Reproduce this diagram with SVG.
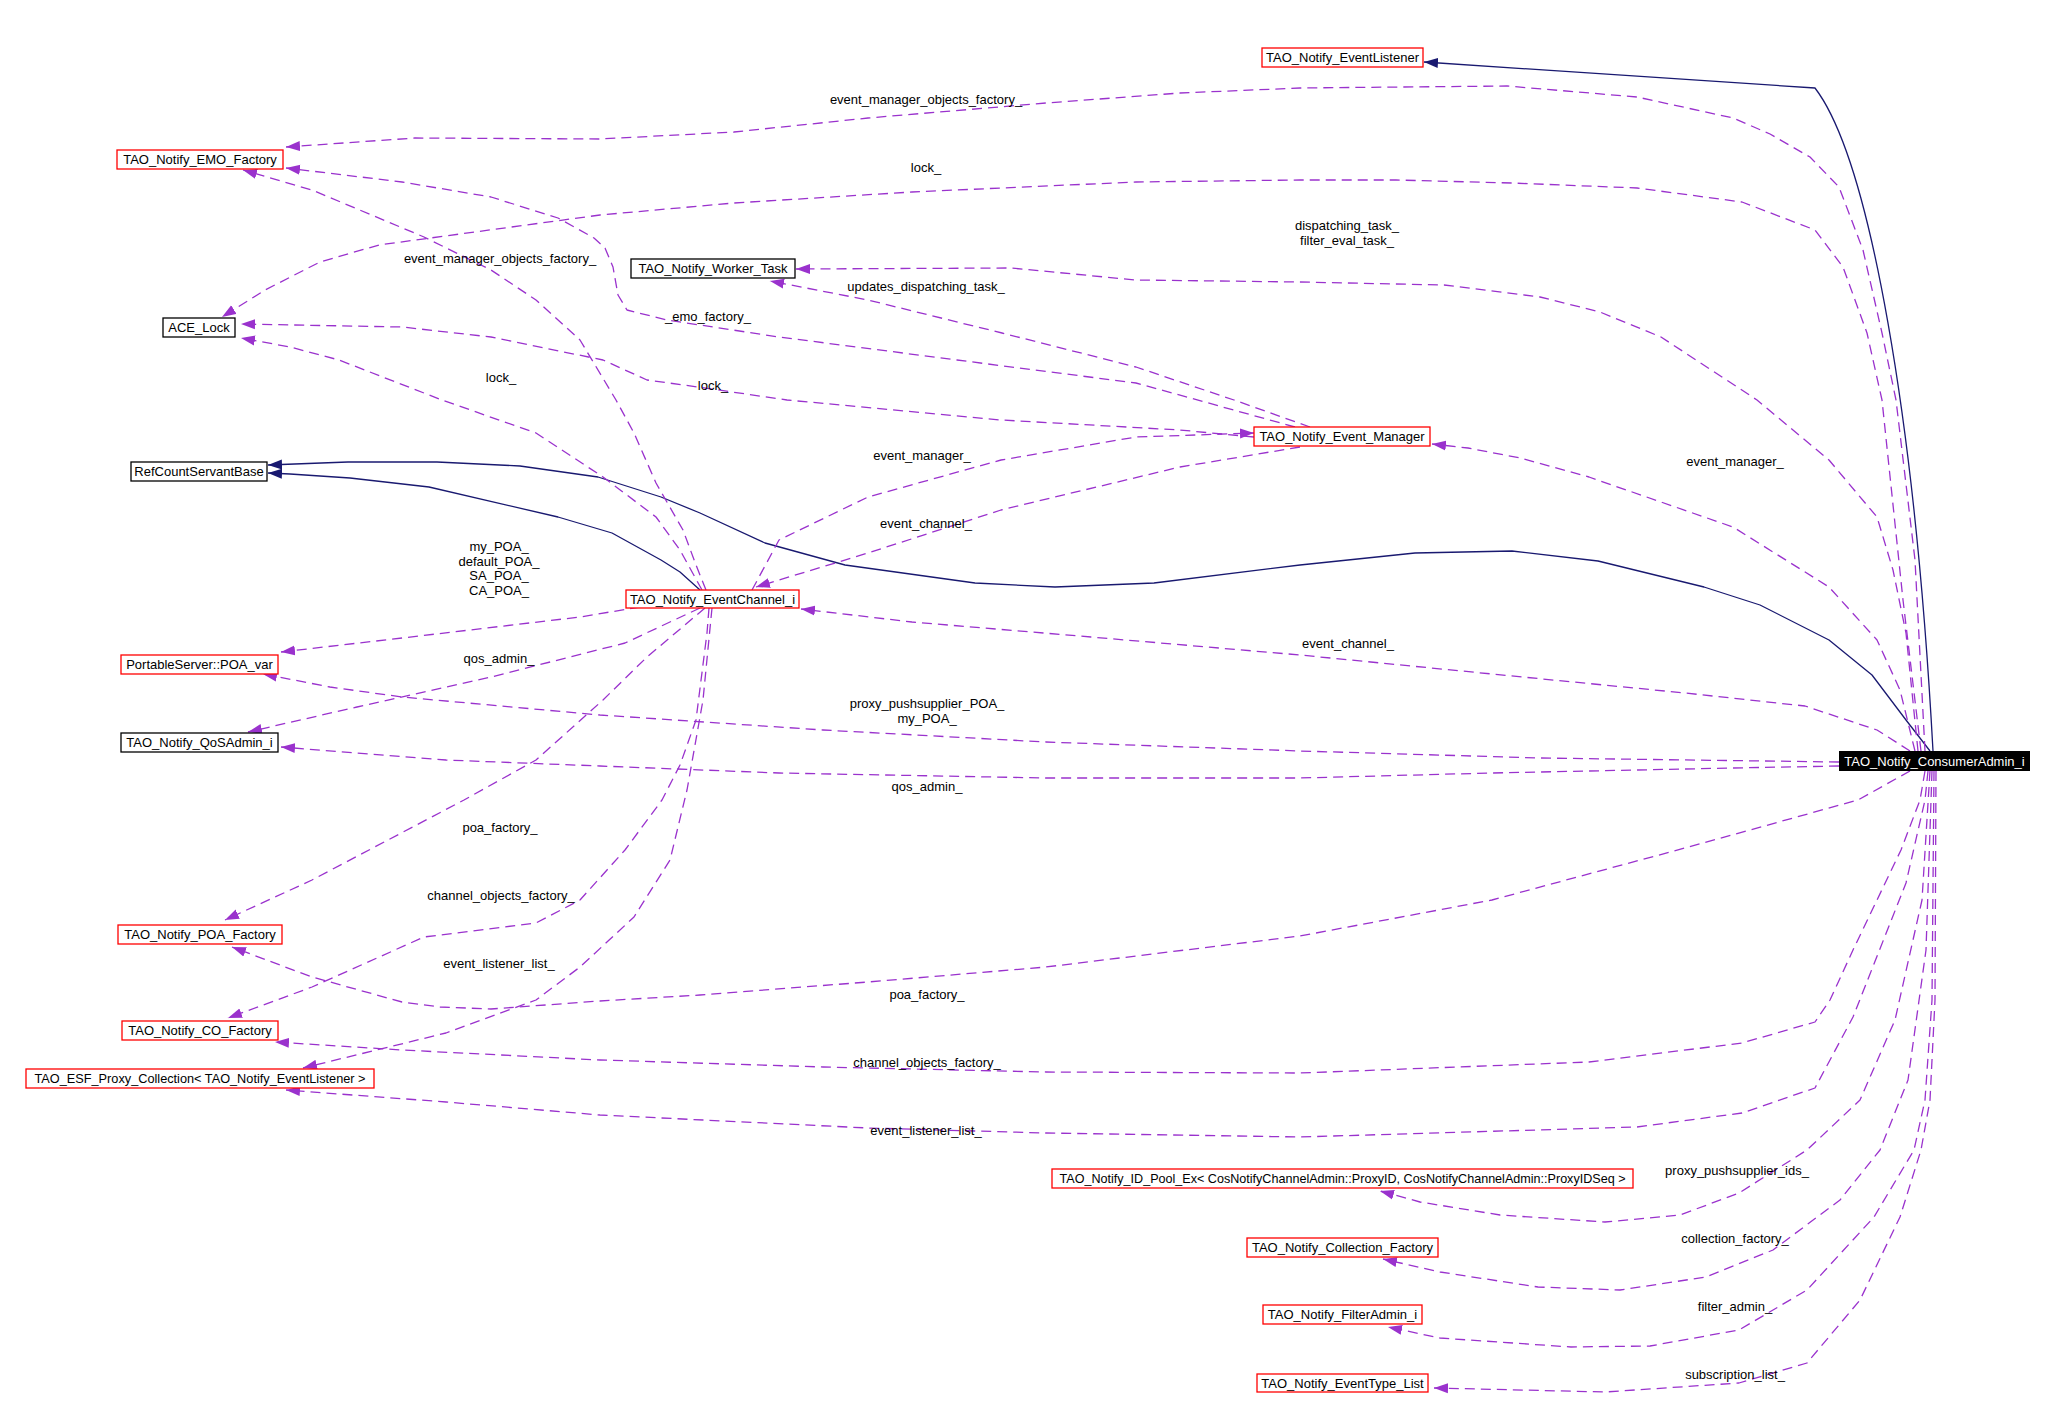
<svg xmlns="http://www.w3.org/2000/svg" width="2054" height="1409" viewBox="0 0 2054 1409">
<style>
text{font-family:"Liberation Sans",Arial,sans-serif;font-size:13px;fill:#000}
.n rect{fill:#fff;stroke:#000;stroke-width:1.3}
.r rect{stroke:#f00}
.m{text-anchor:middle}
.u{fill:none;stroke:#9a32cd;stroke-width:1.3;stroke-dasharray:10,6;stroke-linejoin:round;marker-end:url(#ap)}
.h{fill:none;stroke:#191970;stroke-width:1.3;stroke-linejoin:round;marker-end:url(#an)}
.lb{text-anchor:middle}
</style>
<defs>
<marker id="ap" markerWidth="15" markerHeight="11" refX="14" refY="5.5" orient="auto" markerUnits="userSpaceOnUse"><path d="M0,0.5 L14,5.5 L0,10.5 z" fill="#9a32cd"/></marker>
<marker id="an" markerWidth="15" markerHeight="11" refX="14" refY="5.5" orient="auto" markerUnits="userSpaceOnUse"><path d="M0,0.5 L14,5.5 L0,10.5 z" fill="#191970"/></marker>
</defs>
<rect width="2054" height="1409" fill="#fff"/>
<g id="edges">
<path class="h" d="M1933,751 C1915,420 1870,160 1815,88 L1424,62"/>
<path class="h" d="M1930,751 L1906,720 L1872,675 L1829,640 L1760,605 L1704,587 L1598,561 L1512,551 L1415,553 L1300,565 L1154,583 L1055,587 L975,583 L845,565 L765,543 L700,513 L661,497 L598,477 L520,466 L437,462 L348,462 L268,465"/>
<path class="h" d="M700,590 L680,572 L661,560 L612,533 L558,517 L429,487 L350,478 L290,474 L268,473"/>
<path class="u" d="M1925,751 L1915,560 L1896,400 L1882,333 L1863,250 L1839,187 L1810,157 L1770,134 L1733,118 L1637,97 L1507,86 L1300,88 L1180,93 L1046,103 L868,118 L734,132 L600,139 L415,138 L286,147"/>
<path class="u" d="M1921,751 L1903,600 L1882,400 L1867,333 L1843,267 L1815,230 L1742,202 L1637,188 L1512,183 L1396,180 L1300,180 L1136,182 L912,192 L734,203 L600,215 L379,245 L320,262 L265,290 L222,317"/>
<path class="u" d="M1918,751 L1906,633 L1893,570 L1877,517 L1829,460 L1757,400 L1661,337 L1600,312 L1540,297 L1444,285 L1300,282 L1136,280 L1011,268 L796,269"/>
<path class="u" d="M1915,751 L1900,690 L1877,640 L1829,587 L1733,527 L1589,477 L1520,458 L1468,448 L1432,444"/>
<path class="u" d="M1910,751 L1877,730 L1805,706 L1685,693 L1492,674 L1300,655 L1091,637 L912,622 L801,609"/>
<path class="u" d="M1839,762 L1540,758 L1300,751 L1046,742 L823,730 L600,715 L402,697 L330,687 L263,674"/>
<path class="u" d="M1839,766 L1733,768 L1492,773 L1300,778 L1046,778 L779,773 L600,766 L446,760 L281,747"/>
<path class="u" d="M1910,771 L1858,800 L1685,848 L1492,900 L1300,936 L1046,967 L868,982 L700,995 L600,1001 L491,1009 L440,1007 L402,1002 L312,977 L232,947"/>
<path class="u" d="M1925,771 L1920,800 L1901,850 L1853,950 L1830,1000 L1815,1022 L1742,1043 L1589,1062 L1300,1073 L1046,1072 L823,1067 L600,1060 L402,1050 L275,1042"/>
<path class="u" d="M1928,771 L1925,800 L1906,883 L1853,1017 L1815,1088 L1742,1113 L1637,1127 L1300,1137 L1046,1133 L868,1128 L600,1115 L446,1102 L286,1090"/>
<path class="u" d="M1930,771 L1922,900 L1895,1020 L1860,1100 L1807,1150 L1739,1193 L1680,1215 L1605,1222 L1500,1215 L1420,1202 L1380,1191"/>
<path class="u" d="M1932,771 L1926,950 L1908,1080 L1880,1150 L1840,1200 L1773,1250 L1706,1277 L1620,1290 L1538,1287 L1440,1272 L1383,1259"/>
<path class="u" d="M1934,771 L1932,1000 L1925,1100 L1914,1150 L1874,1217 L1807,1290 L1739,1330 L1650,1346 L1571,1347 L1440,1338 L1388,1327"/>
<path class="u" d="M1936,771 L1935,1000 L1930,1100 L1921,1150 L1900,1217 L1860,1300 L1807,1363 L1739,1383 L1605,1392 L1434,1388"/>
<path class="u" d="M706,590 L696,565 L683,530 L656,483 L634,433 L616,400 L580,340 L536,300 L491,270 L424,237 L312,190 L243,170"/>
<path class="u" d="M702,590 L680,550 L656,517 L603,477 L536,433 L442,400 L339,360 L290,347 L241,338"/>
<path class="u" d="M640,607 L580,617 L402,638 L281,652"/>
<path class="u" d="M700,608 L625,643 L491,677 L357,707 L248,732"/>
<path class="u" d="M705,608 L647,657 L603,700 L536,760 L464,800 L312,880 L225,920"/>
<path class="u" d="M709,608 L707,633 L696,720 L680,765 L662,800 L625,850 L580,900 L536,923 L424,937 L312,987 L228,1018"/>
<path class="u" d="M712,608 L703,700 L687,790 L670,860 L634,917 L580,967 L536,1000 L446,1033 L303,1068"/>
<path class="u" d="M1300,447 L1180,467 L1001,510 L868,553 L756,587"/>
<path class="u" d="M752,590 L779,540 L868,497 L1001,460 L1136,437 L1254,433"/>
<path class="u" d="M1254,437 L1180,430 L1001,420 L787,400 L698,387 L647,380 L603,360 L491,337 L402,327 L241,324"/>
<path class="u" d="M1310,427 L1234,400 L1136,367 L1002,333 L868,300 L770,281"/>
<path class="u" d="M1295,427 L1136,383 L957,360 L779,337 L667,320 L627,310 L618,295 L613,267 L605,248 L594,238 L558,218 L491,197 L402,182 L286,168"/>
</g>
<g id="edge-labels">
<text class="lb" x="926" y="104">event_manager_objects_factory_</text>
<text class="lb" x="926" y="172">lock_</text>
<text class="lb" x="1347" y="230">dispatching_task_</text>
<text class="lb" x="1347" y="245">filter_eval_task_</text>
<text class="lb" x="926" y="291">updates_dispatching_task_</text>
<text class="lb" x="708" y="321">_emo_factory_</text>
<text class="lb" x="713" y="390">lock_</text>
<text class="lb" x="500" y="263">event_manager_objects_factory_</text>
<text class="lb" x="501" y="382">lock_</text>
<text class="lb" x="922" y="460">event_manager_</text>
<text class="lb" x="926" y="528">event_channel_</text>
<text class="lb" x="1735" y="466">event_manager_</text>
<text class="lb" x="499" y="551">my_POA_</text>
<text class="lb" x="499" y="566">default_POA_</text>
<text class="lb" x="499" y="580">SA_POA_</text>
<text class="lb" x="499" y="595">CA_POA_</text>
<text class="lb" x="1348" y="648">event_channel_</text>
<text class="lb" x="499" y="663">qos_admin_</text>
<text class="lb" x="927" y="708">proxy_pushsupplier_POA_</text>
<text class="lb" x="927" y="723">my_POA_</text>
<text class="lb" x="927" y="791">qos_admin_</text>
<text class="lb" x="500" y="832">poa_factory_</text>
<text class="lb" x="501" y="900">channel_objects_factory_</text>
<text class="lb" x="499" y="968">event_listener_list_</text>
<text class="lb" x="927" y="999">poa_factory_</text>
<text class="lb" x="927" y="1067">channel_objects_factory_</text>
<text class="lb" x="926" y="1135">event_listener_list_</text>
<text class="lb" x="1737" y="1175">proxy_pushsupplier_ids_</text>
<text class="lb" x="1735" y="1243">collection_factory_</text>
<text class="lb" x="1735" y="1311">filter_admin_</text>
<text class="lb" x="1735" y="1379">subscription_list_</text>
</g>
<g id="node-EventListener" class="n r"><rect x="1262" y="48" width="161" height="19"/><text class="m" x="1342.5" y="62">TAO_Notify_EventListener</text></g>
<g id="node-EMO_Factory" class="n r"><rect x="117" y="150" width="166" height="19"/><text class="m" x="200" y="164">TAO_Notify_EMO_Factory</text></g>
<g id="node-Worker_Task" class="n"><rect x="631" y="259" width="164" height="19"/><text class="m" x="713" y="273">TAO_Notify_Worker_Task</text></g>
<g id="node-ACE_Lock" class="n"><rect x="163" y="318" width="72" height="19"/><text class="m" x="199" y="332">ACE_Lock</text></g>
<g id="node-RefCountServantBase" class="n"><rect x="131" y="462" width="136" height="19"/><text class="m" x="199" y="476">RefCountServantBase</text></g>
<g id="node-Event_Manager" class="n r"><rect x="1254" y="427" width="176" height="19"/><text class="m" x="1342" y="441">TAO_Notify_Event_Manager</text></g>
<g id="node-EventChannel_i" class="n r"><rect x="626" y="590" width="173" height="18"/><text class="m" x="712.5" y="604">TAO_Notify_EventChannel_i</text></g>
<g id="node-POA_var" class="n r"><rect x="121" y="655" width="157" height="19"/><text class="m" x="199.5" y="669">PortableServer::POA_var</text></g>
<g id="node-QoSAdmin_i" class="n"><rect x="121" y="733" width="157" height="19"/><text class="m" x="199.5" y="747">TAO_Notify_QoSAdmin_i</text></g>
<g id="node-ConsumerAdmin_i"><rect x="1839" y="751" width="191" height="20" fill="#000"/><text class="m" x="1934.5" y="766" style="fill:#fff">TAO_Notify_ConsumerAdmin_i</text></g>
<g id="node-POA_Factory" class="n r"><rect x="118" y="925" width="164" height="19"/><text class="m" x="200" y="939">TAO_Notify_POA_Factory</text></g>
<g id="node-CO_Factory" class="n r"><rect x="122" y="1021" width="156" height="19"/><text class="m" x="200" y="1035">TAO_Notify_CO_Factory</text></g>
<g id="node-ESF_Proxy_Collection" class="n r"><rect x="26" y="1069" width="348" height="19"/><text class="m" x="200" y="1083" textLength="331" lengthAdjust="spacingAndGlyphs">TAO_ESF_Proxy_Collection&lt; TAO_Notify_EventListener &gt;</text></g>
<g id="node-ID_Pool_Ex" class="n r"><rect x="1052" y="1169" width="581" height="19"/><text class="m" x="1342.5" y="1183" textLength="566" lengthAdjust="spacingAndGlyphs">TAO_Notify_ID_Pool_Ex&lt; CosNotifyChannelAdmin::ProxyID, CosNotifyChannelAdmin::ProxyIDSeq &gt;</text></g>
<g id="node-Collection_Factory" class="n r"><rect x="1247" y="1238" width="191" height="19"/><text class="m" x="1342.5" y="1252">TAO_Notify_Collection_Factory</text></g>
<g id="node-FilterAdmin_i" class="n r"><rect x="1263" y="1305" width="159" height="19"/><text class="m" x="1342.5" y="1319">TAO_Notify_FilterAdmin_i</text></g>
<g id="node-EventType_List" class="n r"><rect x="1257" y="1374" width="171" height="18"/><text class="m" x="1342.5" y="1388">TAO_Notify_EventType_List</text></g>
</svg>
